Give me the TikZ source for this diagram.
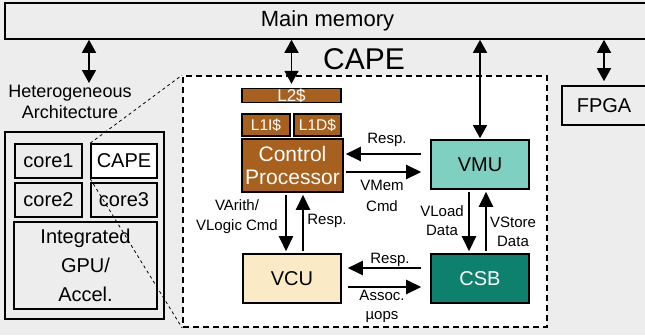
\documentclass[tikz,border=0pt]{standalone}
\usepackage{fontspec}
\setmainfont{Liberation Sans}
\usetikzlibrary{arrows.meta}
\definecolor{bggray}{RGB}{237,237,237}
\definecolor{cpbrown}{RGB}{168,96,30}
\definecolor{vmuteal}{RGB}{127,208,192}
\definecolor{csbteal}{RGB}{14,128,110}
\definecolor{vcucream}{RGB}{250,235,198}
\tikzset{
    %Define standard arrow tip
    >={Triangle[length=15pt,width=14pt]},
    box/.style={draw, line width=1.6pt, inner sep=0pt, align=center, font=\fontsize{20}{23}\selectfont},
    cache/.style={box, fill=cpbrown, text=white, font=\fontsize{15.5}{15}\selectfont},
    lbl/.style={align=center, inner sep=0pt, font=\fontsize{15}{20}\selectfont},
    fat/.style={line width=2.5pt, shorten <=2pt, shorten >=2pt},
    bus/.style={line width=1.5pt, {Triangle[length=13pt,width=14pt]}-{Triangle[length=13pt,width=14pt]}}
}

\begin{document}
\begin{tikzpicture}[x=1pt,y=-1pt]
    \useasboundingbox (0,0) rectangle (645,335);
    \clip (0,0) rectangle (645,335);
    \fill[bggray] (0,0) rectangle (645,335);

    \node[box, minimum width=645pt, minimum height=36pt, font=\fontsize{22}{23}\selectfont] (mem) at (327.5,21) {Main memory};

    % heterogeneous side
    \node[lbl, font=\fontsize{18}{21}\selectfont] (hetlbl) at (70,102) {Heterogeneous\\Architecture};
    \node[box, minimum width=159pt, minimum height=187pt] (het) at (84.5,225.5) {};
    \node[box, minimum width=67pt, minimum height=34pt] (core1) at (48.5,161) {core1};
    \node[box, fill=white, minimum width=66pt, minimum height=34pt] (capecore) at (124,161) {CAPE};
    \node[box, minimum width=67pt, minimum height=34pt] (core2) at (48.5,200) {core2};
    \node[box, minimum width=66pt, minimum height=34pt] (core3) at (124,200) {core3};
    \node[box, minimum width=143pt, minimum height=87pt, font=\fontsize{20}{29}\selectfont] (gpu) at (85.5,265.5) {Integrated\\GPU/\\Accel.};

    % CAPE
    \node[draw, line width=1.8pt, dash pattern=on 6pt off 4pt, fill=white, minimum width=364pt, minimum height=251pt, inner sep=0pt] (capebox) at (365,201.5) {};
    \draw[dashed, line width=0.8pt] (capecore.north west) -- (capebox.north west);
    \draw[dashed, line width=0.8pt] (capecore.south west) -- (capebox.south west);
    \node[font=\fontsize{30}{30}\selectfont, inner sep=0pt] (capettl) at (364,59) {CAPE};

    \node[cache, minimum width=99pt, minimum height=13pt, font=\fontsize{17}{15}\selectfont] (l2) at (291.5,95.5) {L2\$};
    \node[cache, minimum width=48pt, minimum height=22pt] (l1i) at (266,125) {L1I\$};
    \node[cache, minimum width=47pt, minimum height=22pt] (l1d) at (317.5,125) {L1D\$};
    \node[box, fill=cpbrown, text=white, minimum width=101pt, minimum height=53pt, font=\fontsize{21}{23}\selectfont] (cp) at (292.5,165.5) {Control\\Processor};
    \node[box, fill=vmuteal, minimum width=98pt, minimum height=49pt] (vmu) at (480,164.5) {VMU};
    \node[box, fill=vcucream, minimum width=98pt, minimum height=49pt] (vcu) at (292,278.5) {VCU};
    \node[box, fill=csbteal, text=white, minimum width=98pt, minimum height=49pt] (csb) at (480,278.5) {CSB};

    \node[box, minimum width=84pt, minimum height=39pt] (fpga) at (604,105.5) {FPGA};

    % memory links
    \coordinate (hetin) at (89,83);
    \draw[bus] (mem.south -| hetin) -- (hetin);
    \draw[bus, shorten >=4pt] (mem.south -| l2.north) -- (l2.north);
    \draw[bus, shorten >=1pt] (mem.south -| vmu.north) -- (vmu.north);
    \draw[bus, shorten >=4pt] (mem.south -| fpga.north) -- (fpga.north);

    % inside CAPE
    \draw[fat, ->, shorten <=9pt] ([yshift=10.5pt]vmu.west) -- ([yshift=10.5pt]vmu.west -| cp.east);
    \draw[fat, ->, shorten >=9pt] ([yshift=-7.5pt]vmu.west -| cp.east) -- ([yshift=-7.5pt]vmu.west);
    \draw[fat, ->] ([xshift=-6.5pt]cp.south) -- ([xshift=-6.5pt]cp.south |- vcu.north);
    \draw[fat, ->] ([xshift=10.5pt]cp.south |- vcu.north) -- ([xshift=10.5pt]cp.south);
    \draw[fat, ->] ([xshift=-11pt]vmu.south) -- ([xshift=-11pt]vmu.south |- csb.north);
    \draw[fat, ->] ([xshift=6pt]vmu.south |- csb.north) -- ([xshift=6pt]vmu.south);
    \draw[fat, ->, shorten <=9pt, shorten >=6pt] ([yshift=10.5pt]csb.west) -- ([yshift=10.5pt]csb.west -| vcu.east);
    \draw[fat, ->, shorten <=6pt, shorten >=9pt] ([yshift=-8.5pt]csb.west -| vcu.east) -- ([yshift=-8.5pt]csb.west);

    \node[lbl] (resp1) at (387,140) {Resp.};
    \node[lbl, font=\fontsize{15}{21}\selectfont] (vmem) at (382,195.5) {VMem\\Cmd};
    \node[lbl] (varith) at (237,217) {VArith/\\VLogic Cmd};
    \node[lbl] (resp2) at (327,221) {Resp.};
    \node[lbl, font=\fontsize{15}{19}\selectfont] (vload) at (442,220.5) {VLoad\\Data};
    \node[lbl, font=\fontsize{15}{19}\selectfont] (vstore) at (513,231.5) {VStore\\Data};
    \node[lbl] (resp3) at (390,260) {Resp.};
    \node[lbl, font=\fontsize{15}{19}\selectfont] (assoc) at (382,306.5) {Assoc.\\µops};
\end{tikzpicture}
\end{document}
